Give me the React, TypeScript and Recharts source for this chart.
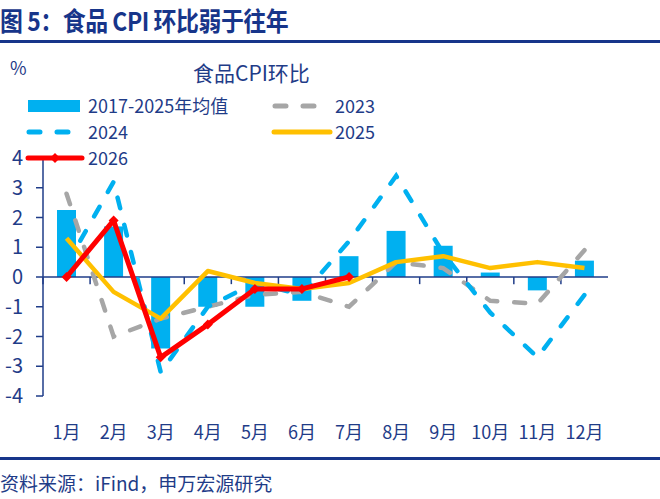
import React from 'react';
import { ComposedChart, Bar, Line, XAxis, YAxis, ReferenceLine } from 'recharts';

const MONTHS = ['1月', '2月', '3月', '4月', '5月', '6月', '7月', '8月', '9月', '10月', '11月', '12月'];
const AVG_2017_2025 = [2.25, 1.7, -2.4, -1.0, -1.0, -0.8, 0.7, 1.55, 1.05, 0.15, -0.45, 0.55];
const Y2023 = [2.8, -2.0, -1.4, -1.0, -0.6, -0.5, -1.0, 0.5, 0.3, -0.8, -0.9, 0.9];
const Y2024 = [0.4, 3.2, -3.2, -1.0, -0.2, -0.6, 1.2, 3.4, 0.8, -1.2, -2.7, -0.6];
const Y2025 = [1.3, -0.5, -1.4, 0.2, -0.2, -0.4, -0.2, 0.5, 0.7, 0.3, 0.5, 0.3];
const Y2026 = [0.0, 1.9, -2.7, -1.6, -0.4, -0.4, 0.0, null, null, null, null, null];
const Y_TICKS = [-4, -3, -2, -1, 0, 1, 2, 3, 4];

const NAVY = '#1F3C88';
const FONT = '"Noto Sans CJK SC", "Noto Sans", sans-serif';

const data = MONTHS.map((m, i) => ({
  month: m, avg: AVG_2017_2025[i], y2023: Y2023[i], y2024: Y2024[i], y2025: Y2025[i], y2026: Y2026[i],
}));

const Diamond = (p: any) => {
  const { cx, cy } = p;
  if (cx == null || cy == null) return null;
  return <path d={`M${cx},${cy - 5} L${cx + 5},${cy} L${cx},${cy + 5} L${cx - 5},${cy} Z`} fill="#FF0000" />;
};

const ChartLegend = () => (
  <svg width={660} height={180} style={{ position: 'absolute', left: 0, top: 0, pointerEvents: 'none' }}>
    <g fontFamily={FONT} fontSize={18} fill={NAVY}>
      <rect x={28} y={100} width={52} height={12} fill="#00B0F0" />
      <text x={88} y={113}>2017-2025年均值</text>
      <line x1={275} y1={106} x2={317} y2={106} stroke="#A6A6A6" strokeWidth={5} strokeDasharray="11 17" strokeLinecap="round" />
      <text x={335} y={113}>2023</text>
      <line x1={29} y1={132} x2={70} y2={132} stroke="#00B0F0" strokeWidth={5} strokeDasharray="11 17" strokeLinecap="round" />
      <text x={88} y={139}>2024</text>
      <line x1={274} y1={132} x2={330} y2={132} stroke="#FFC000" strokeWidth={5} strokeLinecap="round" />
      <text x={335} y={139}>2025</text>
      <line x1={28} y1={158} x2={82} y2={158} stroke="#FF0000" strokeWidth={5} strokeLinecap="round" />
      <path d="M55,153 L60,158 L55,163 L50,158 Z" fill="#FF0000" />
      <text x={88} y={165}>2026</text>
    </g>
  </svg>
);

export default function App() {
  return (
    <div style={{ position: 'fixed', left: 0, top: 0, width: 660, height: 499, background: '#fff', fontFamily: FONT, overflow: 'hidden' }}>
      <div style={{ position: 'absolute', left: 0, top: 1, fontSize: 26, fontWeight: 700, color: '#17358A', whiteSpace: 'nowrap',
        transform: 'scaleX(0.88)', transformOrigin: 'left top', letterSpacing: -0.5 }}>
        图 5：食品 CPI 环比弱于往年
      </div>
      <div style={{ position: 'absolute', left: 0, top: 40, width: 660, height: 2.5, background: '#17358A' }} />
      <div style={{ position: 'absolute', left: 10, top: 54, fontSize: 18, color: NAVY }}>%</div>
      <div style={{ position: 'absolute', left: 193, top: 57, fontSize: 21, color: NAVY, whiteSpace: 'nowrap' }}>食品CPI环比</div>

      <div style={{ position: 'absolute', left: 0, top: 0 }}>
        <ComposedChart width={660} height={499} data={data} margin={{ top: 158, right: 52, bottom: 63, left: 0 }}>
          <XAxis dataKey="month" axisLine={false} tickLine={false} interval={0} height={40} tickMargin={24}
            tick={{ fontSize: 18, fill: NAVY, fontFamily: FONT }} />
          <YAxis type="number" domain={[-4, 4]} ticks={Y_TICKS} interval={0} width={43} tickSize={7} tickMargin={13}
            axisLine={{ stroke: NAVY, strokeWidth: 1.5 }} tickLine={{ stroke: NAVY, strokeWidth: 1.5 }}
            tick={{ fontSize: 20, fill: NAVY, fontFamily: FONT }} />
          <Bar dataKey="avg" fill="#00B0F0" barSize={19} isAnimationActive={false} />
          <ReferenceLine y={0} stroke={NAVY} strokeWidth={1.5} />
          {MONTHS.map((m) => (
            <ReferenceLine key={m} segment={[{ x: m, y: 0 }, { x: m, y: -0.24 }]} position="start" stroke={NAVY} strokeWidth={1.5} />
          ))}
          <ReferenceLine segment={[{ x: MONTHS[11], y: 0 }, { x: MONTHS[11], y: -0.24 }]} position="end" stroke={NAVY} strokeWidth={1.5} />
          <Line dataKey="y2023" stroke="#A6A6A6" strokeWidth={4.5} strokeDasharray="11 17" strokeLinecap="round" dot={false} isAnimationActive={false} />
          <Line dataKey="y2024" stroke="#00B0F0" strokeWidth={4.5} strokeDasharray="11 17" strokeLinecap="round" dot={false} isAnimationActive={false} />
          <Line dataKey="y2025" stroke="#FFC000" strokeWidth={4.5} strokeLinejoin="round" dot={false} isAnimationActive={false} />
          <Line dataKey="y2026" stroke="#FF0000" strokeWidth={5} strokeLinejoin="round" dot={<Diamond />} isAnimationActive={false} />
        </ComposedChart>
      </div>

      <ChartLegend />

      <div style={{ position: 'absolute', left: 0, top: 457, width: 660, height: 2.5, background: '#17358A' }} />
      <div style={{ position: 'absolute', left: 0, top: 469, fontSize: 19, color: NAVY, whiteSpace: 'nowrap' }}>资料来源：iFind，申万宏源研究</div>
    </div>
  );
}
